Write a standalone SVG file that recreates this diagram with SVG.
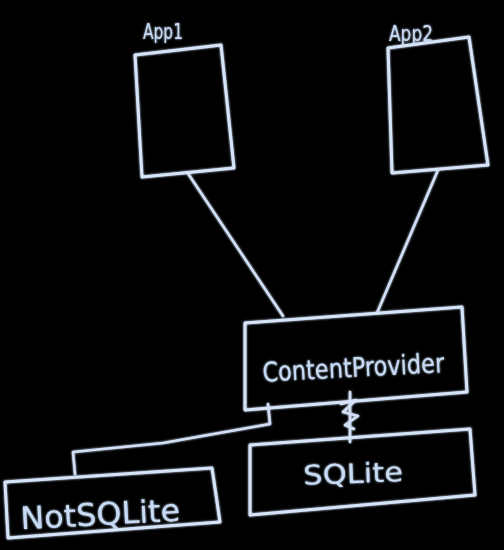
<svg xmlns="http://www.w3.org/2000/svg" width="504" height="550" viewBox="0 0 504 550">
<defs>
<style>
.box{fill:none;stroke:#d6e4fa;stroke-width:3;stroke-linejoin:round;stroke-linecap:round}
.ln{fill:none;stroke:#d0dff5;stroke-width:2.6;stroke-linejoin:round;stroke-linecap:round}
.lbl{fill:#c8dbf5;font-family:"DejaVu Sans",sans-serif}
</style>
<filter id="glow" x="-10%" y="-10%" width="120%" height="120%">
<feGaussianBlur stdDeviation="1.2" result="b"/>
<feMerge><feMergeNode in="b"/><feMergeNode in="SourceGraphic"/></feMerge>
</filter>
</defs>
<rect width="504" height="550" fill="#000"/>
<g filter="url(#glow)">
<g id="connectors">
<path class="ln" d="M187,172 L283,316"/>
<path class="ln" d="M438,170 L377,313"/>
<path class="ln" d="M268,404 L270,424 L163,443 L73,452 L75,474"/>
<path class="ln" d="M350,392 L350,442"/>
<path class="ln" d="M341,404 L356,400 L343,412 L358,416 L345,425 L354,429"/>
</g>
<g id="app1">
<path class="box" d="M135,55 L221,45 L234,168 L142,177 Z"/>
<text class="lbl" x="143" y="39" font-size="21" textLength="40" lengthAdjust="spacingAndGlyphs">App1</text>
</g>
<g id="app2">
<path class="box" d="M388,48 L469,37 L488,165 L392,173 Z"/>
<text class="lbl" x="389" y="41" font-size="21" textLength="44" lengthAdjust="spacingAndGlyphs">App2</text>
</g>
<g id="contentprovider">
<path class="box" d="M245,323 L462,307 L467,392 L245,410 Z"/>
<text class="lbl" x="262" y="377" font-size="27" textLength="182" lengthAdjust="spacingAndGlyphs" transform="rotate(-3 352 362)">ContentProvider</text>
</g>
<g id="sqlite">
<path class="box" d="M250,445 L470,429 L475,495 L250,515 Z"/>
<text class="lbl" x="303" y="483" font-size="27" textLength="100" lengthAdjust="spacingAndGlyphs" transform="rotate(-2 352 470)">SQLite</text>
</g>
<g id="notsqlite">
<path class="box" d="M5,482 L212,468 L220,522 L8,538 Z"/>
<text class="lbl" x="20" y="525" font-size="31" textLength="160" lengthAdjust="spacingAndGlyphs" transform="rotate(-3 100 510)">NotSQLite</text>
</g>
</g>
</svg>
